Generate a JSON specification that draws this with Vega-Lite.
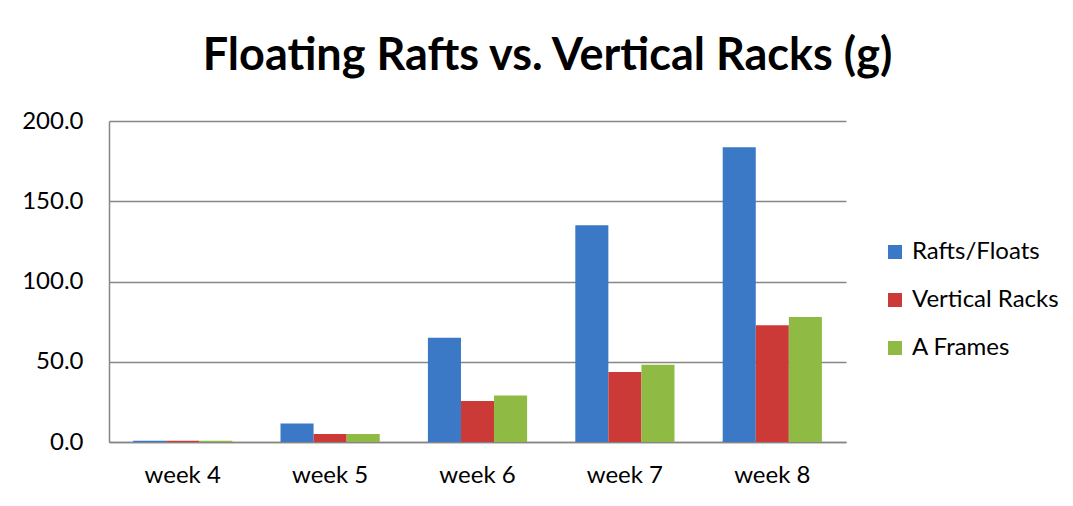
{
  "$schema": "https://vega.github.io/schema/vega-lite/v6.json",
  "autosize": "none",
  "width": 737,
  "height": 321,
  "padding": {"left": 109, "top": 121, "right": 227, "bottom": 64},
  "background": "white",
  "title": {
    "text": "Floating Rafts vs. Vertical Racks (g)",
    "font": "Lato",
    "fontSize": 45,
    "fontWeight": "bold",
    "color": "#000000",
    "anchor": "middle",
    "frame": "group",
    "dx": 70,
    "dy": 42,
    "baseline": "alphabetic",
    "offset": 36
  },
  "data": {
    "values": [
      {"week": "week 4", "series": "Rafts/Floats", "value": 0.8},
      {"week": "week 4", "series": "Vertical Racks", "value": 0.8},
      {"week": "week 4", "series": "A Frames", "value": 0.8},
      {"week": "week 5", "series": "Rafts/Floats", "value": 11.5},
      {"week": "week 5", "series": "Vertical Racks", "value": 5.0},
      {"week": "week 5", "series": "A Frames", "value": 5.0},
      {"week": "week 6", "series": "Rafts/Floats", "value": 65.0},
      {"week": "week 6", "series": "Vertical Racks", "value": 25.5},
      {"week": "week 6", "series": "A Frames", "value": 29.0},
      {"week": "week 7", "series": "Rafts/Floats", "value": 135.0},
      {"week": "week 7", "series": "Vertical Racks", "value": 43.6},
      {"week": "week 7", "series": "A Frames", "value": 48.2},
      {"week": "week 8", "series": "Rafts/Floats", "value": 183.7},
      {"week": "week 8", "series": "Vertical Racks", "value": 72.7},
      {"week": "week 8", "series": "A Frames", "value": 77.9}
    ]
  },
  "mark": {"type": "bar"},
  "encoding": {
    "x": {
      "field": "week",
      "type": "nominal",
      "title": null,
      "scale": {"paddingInner": 0.327, "paddingOuter": 0.1635},
      "axis": {
        "labelAngle": 0,
        "labelFont": "Lato",
        "labelFontSize": 24,
        "labelColor": "#000000",
        "labelPadding": 21,
        "ticks": false,
        "domainColor": "#868686",
        "domainWidth": 1.5,
        "grid": false
      }
    },
    "xOffset": {
      "field": "series",
      "type": "nominal",
      "scale": {"domain": ["Rafts/Floats", "Vertical Racks", "A Frames"], "paddingInner": 0, "paddingOuter": 0}
    },
    "y": {
      "field": "value",
      "type": "quantitative",
      "title": null,
      "scale": {"domain": [0, 200]},
      "axis": {
        "values": [0, 50, 100, 150, 200],
        "format": ".1f",
        "labelFont": "Lato",
        "labelFontSize": 24,
        "labelColor": "#000000",
        "labelPadding": 26,
        "ticks": false,
        "domainColor": "#868686",
        "domainWidth": 1.5,
        "gridColor": "#868686",
        "gridWidth": 1.3
      }
    },
    "color": {
      "field": "series",
      "type": "nominal",
      "title": null,
      "scale": {
        "domain": ["Rafts/Floats", "Vertical Racks", "A Frames"],
        "range": ["#3b78c6", "#cc3a38", "#8fbb44"]
      },
      "legend": {
        "orient": "none",
        "legendX": 774,
        "legendY": 119,
        "symbolType": "square",
        "symbolSize": 196,
        "symbolStrokeWidth": 0,
        "labelFont": "Lato",
        "labelFontSize": 24,
        "labelColor": "#000000",
        "labelOffset": 5,
        "rowPadding": 24
      }
    }
  },
  "config": {"view": {"stroke": null}}
}
